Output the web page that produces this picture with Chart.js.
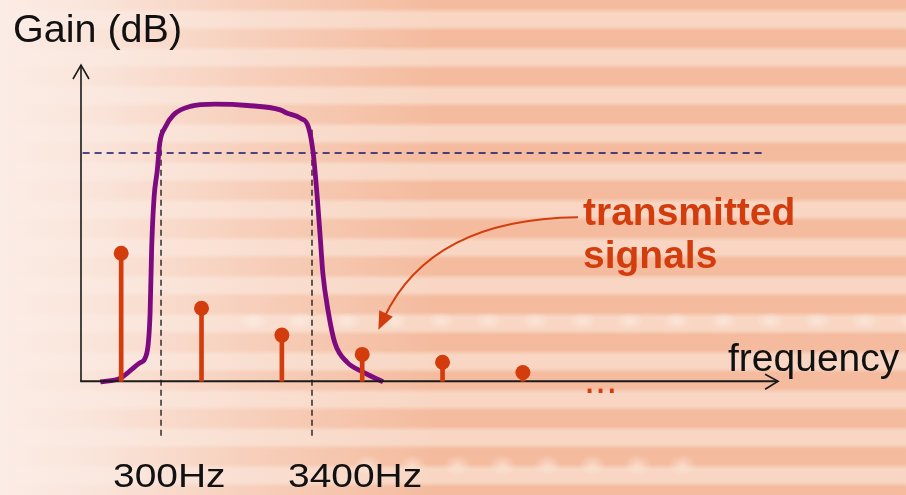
<!DOCTYPE html>
<html>
<head>
<meta charset="utf-8">
<script src="https://cdn.jsdelivr.net/npm/chart.js@4.4.1/dist/chart.umd.min.js"></script>
<style>
  html, body { margin: 0; padding: 0; }
  body {
    width: 906px; height: 495px; overflow: hidden;
    background:
      linear-gradient(to right, rgba(251,236,229,1) 0%, rgba(251,236,229,0.85) 10%, rgba(251,236,229,0.4) 28%, rgba(251,236,229,0) 48%),
      repeating-linear-gradient(to bottom, #f4bb9e 0px, #f4bb9e 8px, #f8d6c3 13px, #f8d6c3 26px, #f4bb9e 31px, #f4bb9e 38px);
  }
  #wrap { position: relative; width: 906px; height: 495px; }
  .spots { position: absolute; height: 30px; }
  #spots1 {
    left: 230px; top: 306px; width: 676px;
    background: radial-gradient(ellipse 14px 9px, rgba(255,248,242,0.45) 0, rgba(255,248,242,0) 100%) 0 0 / 47px 30px repeat-x;
  }
  #spots2 {
    left: 345px; top: 450px; width: 360px;
    background: radial-gradient(ellipse 14px 10px, rgba(255,248,242,0.45) 0, rgba(255,248,242,0) 100%) 0 0 / 45px 30px repeat-x;
  }
  canvas { position: absolute; left: 0; top: 0; }
</style>
</head>
<body>
<div id="wrap">
  <div class="spots" id="spots1"></div>
  <div class="spots" id="spots2"></div>
  <canvas id="chart" width="906" height="495"></canvas>
</div>
<script>
// harmonics of the signal (x in harmonic units, y in relative gain 0..100)
const harmonics = [1, 2, 3, 4, 5, 6];
const harmonicLevels = [40.5, 23.1, 14.6, 8.5, 6.0, 2.8];

// band-pass filter response
const filterFreq = [0.74, 0.99, 1.23, 1.32, 1.36, 1.38, 1.41, 1.45, 1.48, 1.55, 1.65, 1.86, 2.17, 2.57, 2.98, 3.06, 3.23, 3.33, 3.39, 3.44, 3.48, 3.51, 3.58, 3.66, 3.81, 4.01, 4.26];
const filterGain = [-0.2, 1.0, 5.8, 9.0, 21.6, 42.5, 58.3, 66.8, 75.3, 80.4, 84.2, 86.9, 87.6, 87.2, 85.8, 84.8, 83.2, 80.4, 72.2, 58.3, 44.7, 34.2, 21.6, 12.1, 6.1, 2.9, -0.2];

// -3 dB line and cut-off frequencies
const thresholdGain = 72.2;
const thresholdRange = [0.52, 9.02];
const cutoffFreqs = [1.496, 3.375];
const cutoffLabels = ['300Hz', '3400Hz'];
const cutoffRange = [79.5, -17.4];

// axes
const xAxisRange = [0.49, 9.176];
const yAxisRange = [0, 100];

const ORANGE = '#d33c0c';
const PURPLE = '#7e0a80';
const NAVY = '#14146e';

const pts = (xs, ys) => xs.map((x, i) => ({ x, y: ys[i] }));

function stretchedText(ctx, text, x, y, sx) {
  ctx.save();
  ctx.translate(x, y);
  ctx.scale(sx, 1);
  ctx.fillText(text, 0, 0);
  ctx.restore();
}

const overlay = {
  id: 'overlay',
  afterDatasetsDraw(chart) {
    const { ctx, scales: { x, y } } = chart;
    const X = v => x.getPixelForValue(v), Y = v => y.getPixelForValue(v);
    ctx.save();
    // axis arrowheads
    ctx.strokeStyle = '#1a1a1a';
    ctx.lineWidth = 1.6;
    const yTop = [X(0.5), Y(yAxisRange[1])];
    ctx.beginPath();
    ctx.moveTo(yTop[0] - 8, yTop[1] + 14); ctx.lineTo(yTop[0], yTop[1]); ctx.lineTo(yTop[0] + 8, yTop[1] + 14);
    ctx.stroke();
    const xEnd = [X(xAxisRange[1]), Y(0)];
    ctx.beginPath();
    ctx.moveTo(xEnd[0] - 13, xEnd[1] - 7); ctx.lineTo(xEnd[0], xEnd[1]); ctx.lineTo(xEnd[0] - 13, xEnd[1] + 8);
    ctx.stroke();

    // curved pointer to the transmitted signals
    const p0 = [X(6.686), Y(51.9)], c = [X(4.85), Y(51.4)], p1 = [X(4.27), Y(20.0)];
    ctx.strokeStyle = ORANGE; ctx.fillStyle = ORANGE; ctx.lineWidth = 2;
    ctx.beginPath(); ctx.moveTo(p0[0], p0[1]); ctx.quadraticCurveTo(c[0], c[1], p1[0], p1[1]); ctx.stroke();
    const ang = Math.atan2(p1[1] - c[1], p1[0] - c[0]);
    const tip = [p1[0] + Math.cos(ang) * 13, p1[1] + Math.sin(ang) * 13];
    ctx.beginPath();
    ctx.moveTo(tip[0], tip[1]);
    ctx.lineTo(tip[0] - Math.cos(ang) * 18 + Math.sin(ang) * 7.5, tip[1] - Math.sin(ang) * 18 - Math.cos(ang) * 7.5);
    ctx.lineTo(tip[0] - Math.cos(ang) * 18 - Math.sin(ang) * 7.5, tip[1] - Math.sin(ang) * 18 + Math.cos(ang) * 7.5);
    ctx.closePath(); ctx.fill();

    // texts
    ctx.textBaseline = 'alphabetic';
    ctx.fillStyle = '#111';
    ctx.font = '38px "Liberation Sans", Arial, sans-serif';
    stretchedText(ctx, 'Gain (dB)', 13, 42, 1.04);
    ctx.font = '39px "Liberation Sans", Arial, sans-serif';
    ctx.fillText('frequency', 728, 371);
    ctx.font = '34px "Liberation Sans", Arial, sans-serif';
    stretchedText(ctx, cutoffLabels[0], 113, 487, 1.145);
    stretchedText(ctx, cutoffLabels[1], 288, 487, 1.145);
    ctx.fillStyle = ORANGE;
    ctx.font = 'bold 39px "Liberation Sans", Arial, sans-serif';
    ctx.fillText('transmitted', 583, 225);
    ctx.fillText('signals', 583, 268);
    ctx.font = '40px "Liberation Sans", Arial, sans-serif';
    ctx.fillText('...', 584, 393);
    ctx.restore();
  }
};

new Chart(document.getElementById('chart'), {
  type: 'line',
  data: {
    datasets: [
      {
        type: 'bar',
        data: pts(harmonics, harmonicLevels),
        backgroundColor: ORANGE,
        barThickness: 4,
        order: 1
      },
      {
        type: 'scatter',
        data: pts(harmonics, harmonicLevels),
        pointRadius: 7.5,
        pointBackgroundColor: ORANGE,
        pointBorderWidth: 0,
        order: 0
      },
      {
        data: pts(filterFreq, filterGain),
        borderColor: PURPLE,
        borderWidth: 4.8,
        pointRadius: 0,
        cubicInterpolationMode: 'monotone',
        order: 3
      },
      {
        data: pts(thresholdRange, [thresholdGain, thresholdGain]),
        borderColor: NAVY,
        borderWidth: 1.5,
        borderDash: [7, 5],
        pointRadius: 0,
        order: 4
      },
      ...cutoffFreqs.map(f => ({
        data: pts([f, f], cutoffRange),
        borderColor: '#111',
        borderWidth: 1.3,
        borderDash: [6, 4],
        pointRadius: 0,
        order: 4
      })),
      {
        data: pts(xAxisRange, [0, 0]),
        borderColor: '#1a1a1a',
        borderWidth: 2,
        pointRadius: 0,
        order: 2
      },
      {
        data: pts([0.5, 0.5], yAxisRange),
        borderColor: '#1a1a1a',
        borderWidth: 1.6,
        pointRadius: 0,
        order: 2
      }
    ]
  },
  options: {
    responsive: false,
    animation: false,
    clip: false,
    layout: { autoPadding: false, padding: { left: 81, right: 126, top: 65, bottom: 3 } },
    plugins: { legend: { display: false }, tooltip: { enabled: false } },
    scales: {
      x: { type: 'linear', min: 0.5, max: 9.2, offset: false, display: false },
      y: { type: 'linear', min: -35, max: 100, display: false }
    }
  },
  plugins: [overlay]
});
</script>
</body>
</html>
